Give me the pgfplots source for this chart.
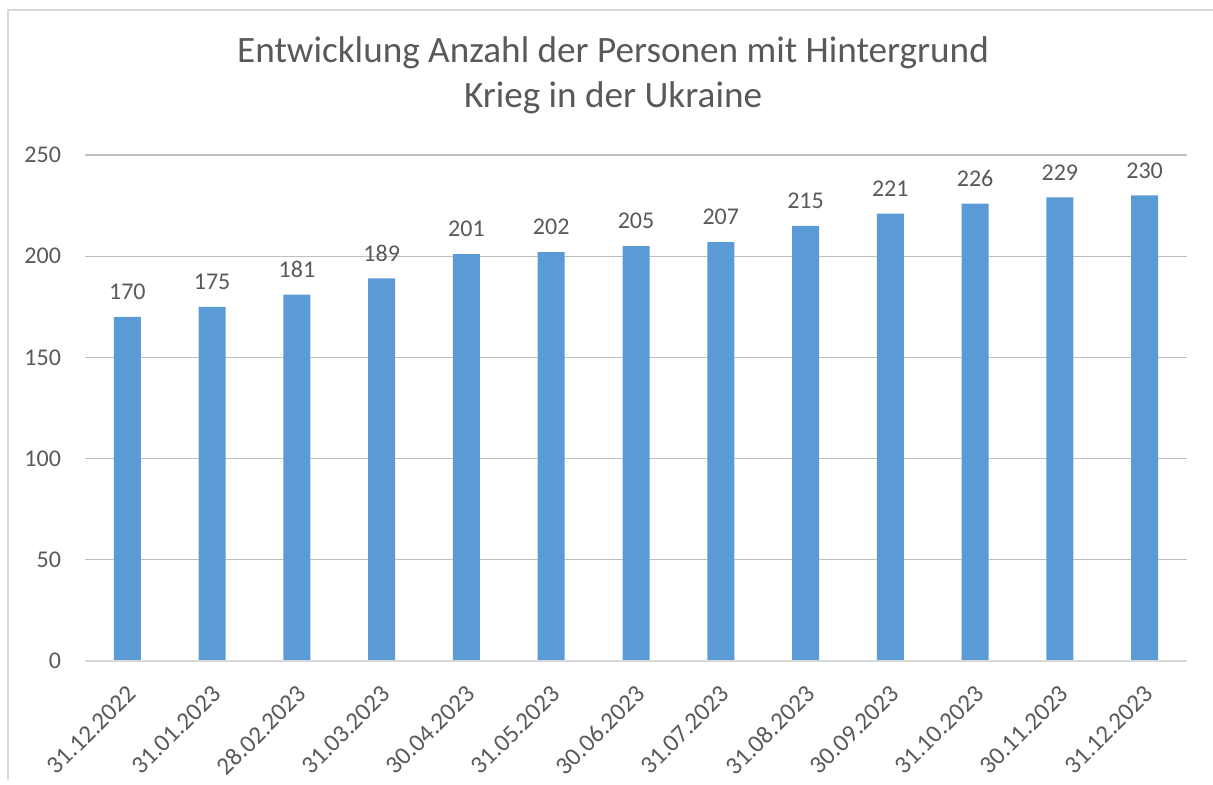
\documentclass[border=0pt]{standalone}
\usepackage{pgfplots}
\pgfplotsset{compat=1.18}
\usepackage{fontspec}
\setmainfont{Carlito}
\definecolor{txt}{HTML}{595959}
\definecolor{grid}{HTML}{D9D9D9}
\definecolor{bar}{HTML}{5B9BD5}
\begin{document}
\begin{tikzpicture}
\path[use as bounding box] (0pt,0pt) rectangle (606.5pt,392.5pt);
\draw[grid, line width=0.6pt] (4pt,2.5pt) -- (4pt,387.5pt) -- (606.5pt,387.5pt);
\node[txt, font=\fontsize{18.6}{22.5}\selectfont, align=center] at (306.5pt,355pt) {Entwicklung Anzahl der Personen mit Hintergrund\\Krieg in der Ukraine};
\begin{axis}[
  at={(42.5pt,62pt)}, anchor=south west,
  scale only axis, width=551pt, height=253pt,
  xmin=-0.5, xmax=12.5, ymin=0, ymax=250,
  ytick={0,50,...,250},
  xtick={0,...,12},
  xticklabels={31.12.2022,31.01.2023,28.02.2023,31.03.2023,30.04.2023,31.05.2023,30.06.2023,31.07.2023,31.08.2023,30.09.2023,31.10.2023,30.11.2023,31.12.2023},
  axis line style={draw=none},
  xtick style={draw=none}, ytick style={draw=none},
  xmajorgrids=false,
  ymajorgrids, grid style={grid, line width=0.6pt},
  tick label style={txt, font=\fontsize{12}{14}\selectfont},
  /pgf/number format/assume math mode=true,
  x tick label style={rotate=45, anchor=north east, font=\fontsize{12.5}{15}\selectfont, xshift=-5pt, yshift=-4pt},
  y tick label style={anchor=east, xshift=-8.5pt},
  every node near coord/.append style={txt, font=\fontsize{12}{14}\selectfont, yshift=5pt},
  clip=false,
]
\addplot[ybar, bar width=13.5pt, fill=bar, draw=none, nodes near coords] coordinates {
(0,170) (1,175) (2,181) (3,189) (4,201) (5,202) (6,205) (7,207) (8,215) (9,221) (10,226) (11,229) (12,230)};
\draw[grid, line width=1.2pt] (axis cs:-0.5,0) -- (axis cs:12.5,0);
\end{axis}
\end{tikzpicture}
\end{document}
